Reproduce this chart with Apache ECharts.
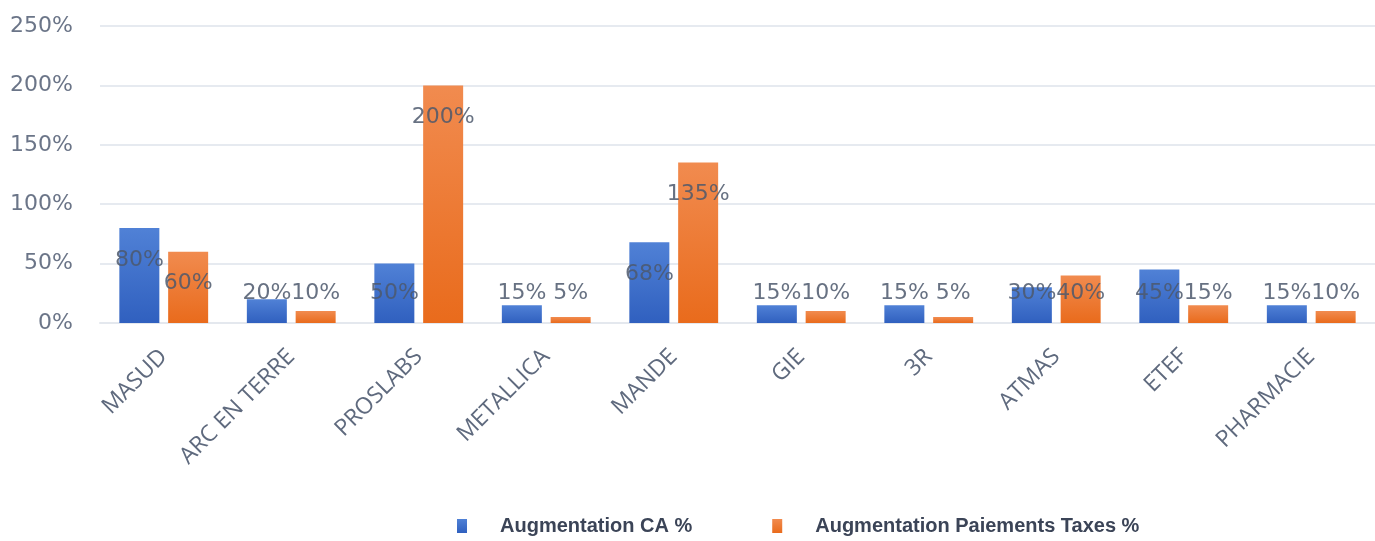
<!DOCTYPE html>
<html>
<head>
<meta charset="utf-8">
<script src="https://cdn.jsdelivr.net/npm/echarts@6/dist/echarts.min.js"></script>
<style>
  html, body { margin: 0; padding: 0; background: #fff; }
  #chart { width: 1375px; height: 541px; }
</style>
</head>
<body>
<div id="chart"></div>
<script>
// données
const categories = ["MASUD", "ARC EN TERRE", "PROSLABS", "METALLICA", "MANDE", "GIE", "3R", "ATMAS", "ETEF", "PHARMACIE"];
const caValues = [80, 20, 50, 15, 68, 15, 15, 30, 45, 15];
const taxesValues = [60, 10, 200, 5, 135, 10, 5, 40, 15, 10];
const seriesNames = ["Augmentation CA %", "Augmentation Paiements Taxes %"];

const chart = echarts.init(document.getElementById("chart"));

// étiquette à l'intérieur en haut pour les grandes barres, sinon fixée près de la base
function withLabels (values) {
  return values.map(v => ({
    value: v,
    label: v >= 52
      ? { position: "insideTop", distance: 21 }
      : { position: "insideBottom", distance: 19 }
  }));
}

function grad (top, bottom) {
  return new echarts.graphic.LinearGradient(0, 0, 0, 1, [
    { offset: 0, color: top },
    { offset: 1, color: bottom }
  ]);
}

const labelStyle = {
  show: true,
  formatter: "{c}%",
  color: "rgba(76,88,108,0.85)",
  fontFamily: "DejaVu Sans",
  fontSize: 22
};

const option = {
  animation: false,
  grid: { left: 100, right: -10, top: 26, bottom: 218 },
  legend: {
    bottom: 0,
    left: 452,
    itemWidth: 10,
    itemHeight: 14,
    itemGap: 80,
    icon: "rect",
    textStyle: {
      color: "#3b4457",
      fontFamily: "Liberation Sans",
      fontWeight: "bold",
      fontSize: 20,
      padding: [0, 0, 0, 28]
    },
    data: seriesNames
  },
  xAxis: {
    type: "category",
    data: categories,
    axisTick: { show: false },
    axisLine: { lineStyle: { color: "#e4e8ee", width: 2 } },
    axisLabel: {
      rotate: 45,
      margin: 30,
      interval: 0,
      color: "#5f6a7e",
      fontFamily: "Open Sans",
      fontSize: 23
    }
  },
  yAxis: {
    type: "value",
    min: 0,
    max: 250,
    interval: 50,
    axisLine: { show: false },
    axisTick: { show: false },
    splitLine: { lineStyle: { color: "#e6eaf0", width: 2 } },
    axisLabel: {
      formatter: "{value}%",
      margin: 27,
      color: "#6b7588",
      fontFamily: "DejaVu Sans",
      fontSize: 22
    }
  },
  series: [
    {
      name: seriesNames[0],
      type: "bar",
      barWidth: 40,
      barGap: "22%",
      data: withLabels(caValues),
      itemStyle: { color: grad("#5081d6", "#3060bf") },
      label: labelStyle
    },
    {
      name: seriesNames[1],
      type: "bar",
      barWidth: 40,
      data: withLabels(taxesValues),
      itemStyle: { color: grad("#f18b4f", "#e96b1c") },
      label: labelStyle
    }
  ]
};

chart.setOption(option);
</script>
</body>
</html>
